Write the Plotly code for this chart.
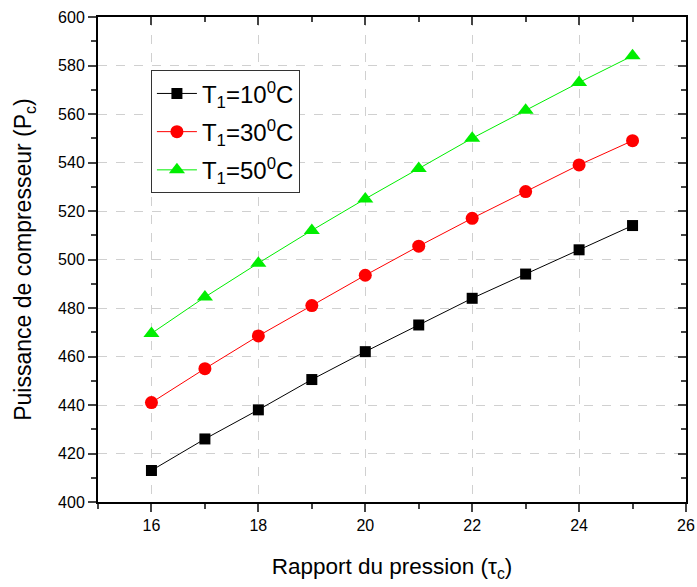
import plotly.graph_objects as go

x_vals = [16, 17, 18, 19, 20, 21, 22, 23, 24, 25]
p_10 = [413, 426, 438, 450.5, 462, 473, 484, 494, 504, 514]
p_30 = [441, 455, 468.5, 481, 493.5, 505.5, 517, 528, 539, 549]
p_50 = [469.5, 484.5, 498.5, 512, 525, 537.5, 550, 561.5, 573, 584]
names = ["T<sub>1</sub>=10<sup>0</sup>C", "T<sub>1</sub>=30<sup>0</sup>C", "T<sub>1</sub>=50<sup>0</sup>C"]
colors = ["#000000", "#ff0000", "#00ee00"]
symbols = ["square", "circle", "triangle-up"]
sizes = [11, 13, 14]

fig = go.Figure()
for i, (ys, nm, c, s, sz) in enumerate(zip([p_10, p_30, p_50], names, colors, symbols, sizes)):
    fig.add_trace(go.Scatter(x=x_vals, y=ys, name=nm, mode="lines+markers", legendgroup=f"g{i}",
                             line=dict(color=c, width=1),
                             marker=dict(color=c, symbol=s, size=sz)))
# invisible trace for mirrored axes
fig.add_trace(go.Scatter(x=[x_vals[0]], y=[p_10[0]], xaxis="x2", yaxis="y2",
                         mode="markers", marker=dict(opacity=0), showlegend=False, hoverinfo="skip"))

font = "Liberation Sans"
common = dict(showline=True, linecolor="black", linewidth=2, zeroline=False, automargin=False)
fig.update_layout(
    width=697, height=587,
    margin=dict(l=98, r=11, t=17, b=85),
    plot_bgcolor="white", paper_bgcolor="white",
    font=dict(family=font, color="black", size=15),
    xaxis=dict(range=[15, 26], tickvals=[16, 18, 20, 22, 24, 26], ticks="outside", ticklen=8, tickwidth=2,
               minor=dict(dtick=1, ticks="outside", ticklen=5, tickwidth=2, showgrid=False, tick0=15),
               showgrid=True, gridcolor="#d0d0d0", griddash="dash", gridwidth=1,
               title=dict(text="Rapport du pression (τ<sub>c</sub>)", font=dict(size=22.5), standoff=25),
               tickfont=dict(size=16), **common),
    yaxis=dict(range=[400, 600], dtick=20, ticks="outside", ticklen=8, tickwidth=2,
               minor=dict(dtick=10, ticks="outside", ticklen=5, tickwidth=2, showgrid=False),
               showgrid=True, gridcolor="#d0d0d0", griddash="dash", gridwidth=1,
               title=dict(text="Puissance de compresseur (P<sub>c</sub>)", font=dict(size=23), standoff=20),
               tickfont=dict(size=16), **common),
    xaxis2=dict(overlaying="x", side="top", range=[15, 26], tickvals=[16, 18, 20, 22, 24, 26],
                ticks="inside", ticklen=8, tickwidth=2, showticklabels=False, showgrid=False,
                minor=dict(dtick=1, ticks="inside", ticklen=5, tickwidth=2, tick0=15),
                **common),
    yaxis2=dict(overlaying="y", side="right", range=[400, 600], dtick=20,
                ticks="inside", ticklen=8, tickwidth=2, showticklabels=False, showgrid=False,
                minor=dict(dtick=10, ticks="inside", ticklen=5, tickwidth=2),
                **common),
    legend=dict(x=0.09, y=0.89, xanchor="left", yanchor="top", traceorder="grouped", tracegroupgap=4,
                bgcolor="white", bordercolor="#333333", borderwidth=1,
                font=dict(size=24, family=font), itemwidth=40),
)
fig.write_html("out.html", config={"displayModeBar": False},
               post_script="document.body.style.margin='0';")
